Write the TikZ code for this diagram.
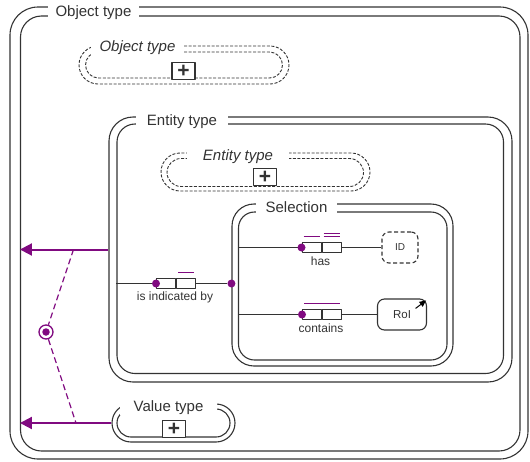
\documentclass[tikz,border=0pt]{standalone}
\usepackage{fontspec}
\setmainfont{Liberation Sans}
\usetikzlibrary{arrows.meta,shapes.misc}
\definecolor{ink}{HTML}{333333}
\definecolor{orm}{HTML}{800A80}
\begin{document}
\begin{tikzpicture}[x=1pt,y=-1pt,
  line join=round,
  frame/.style={draw=ink, line width=1.1pt, inner sep=0pt},
  pill/.style={frame, rounded rectangle},
  dframe/.style={draw=ink, line width=0.9pt, dash pattern=on 3pt off 1.6pt, inner sep=0pt, rounded rectangle},
  tag/.style={fill=white, text=ink, inner ysep=1pt, font=\fontsize{15}{18}\selectfont},
  itag/.style={tag, font=\fontsize{15}{18}\selectfont\itshape},
  plusbox/.style={draw=ink, fill=white, line width=1.1pt, minimum width=23pt, minimum height=17pt, inner sep=0pt, text=ink, font=\fontsize{21}{21}\selectfont\bfseries},
  cell/.style={draw=ink, line width=1.1pt, minimum width=19pt, minimum height=10.5pt, inner sep=0pt},
  rolelab/.style={text=ink, inner sep=0pt, font=\fontsize{12}{14}\selectfont},
  dot/.style={circle, fill=orm, minimum size=8pt, inner sep=0pt},
  conn/.style={draw=ink, line width=1.1pt},
  ubar/.style={draw=orm, line width=1.4pt},
  idbox/.style={draw=ink, line width=1.1pt, dash pattern=on 4pt off 2.5pt, rounded corners=7pt, minimum width=36pt, minimum height=31pt, inner sep=0pt, text=ink, font=\fontsize{10}{12}\selectfont},
  roibox/.style={draw=ink, line width=1.1pt, rounded corners=7pt, minimum width=49pt, minimum height=31pt, inner sep=0pt, text=ink, font=\fontsize{11.5}{13}\selectfont},
  parrow/.style={draw=orm, line width=2pt, -{Triangle[length=12pt,width=12pt]}},
  pdash/.style={draw=orm, line width=1.2pt, dash pattern=on 6pt off 3.5pt},
]
\useasboundingbox (0,0) rectangle (530,461);

% Object type frame
\node[frame, rounded corners=28pt, minimum width=518pt, minimum height=452pt] (objout) at (269,233) {};
\node[frame, rounded corners=21pt, minimum width=499.5pt, minimum height=435pt] (objin) at (270.25,233.5) {};
\node[tag, inner xsep=8pt] (objtag) at (93.5,13) {Object type};

% collapsed Object type subtype
\node[dframe, minimum width=210pt, minimum height=38pt] (objsub) at (184,65) {};
\node[dframe, minimum width=197pt, minimum height=26pt] (objsubin) at (184,65) {};
\node[itag, inner xsep=9pt] (objsubtag) at (137.5,48) {Object type};
\node[plusbox] (objplus) at (183.5,71) {+};

% Entity type frame
\node[frame, rounded corners=24pt, minimum width=403pt, minimum height=265pt] (entout) at (310.5,249.5) {};
\node[frame, rounded corners=18pt, minimum width=386.5pt, minimum height=249.5pt] (entin) at (310.25,248.75) {};
\node[tag, inner xsep=11pt] (enttag) at (182,122) {Entity type};

% collapsed Entity type subtype
\node[dframe, minimum width=209pt, minimum height=38pt] (entsub) at (265.5,172) {};
\node[dframe, minimum width=196.5pt, minimum height=28pt] (entsubin) at (265.25,172.5) {};
\node[itag, inner xsep=16pt] (entsubtag) at (238,157) {Entity type};
\node[plusbox] (entplus) at (265,177) {+};

% Selection frame
\node[frame, rounded corners=22pt, minimum width=221pt, minimum height=162pt] (selout) at (342.5,285) {};
\node[frame, rounded corners=16pt, minimum width=208.5pt, minimum height=148pt] (selin) at (342.75,286) {};
\node[tag, inner xsep=10pt] (seltag) at (296.5,207.5) {Selection};

% Value type
\node[pill, minimum width=123pt, minimum height=38pt] (valout) at (173.5,423) {};
\node[pill, minimum width=113pt, minimum height=28pt] (valin) at (173.5,423) {};
\node[tag, inner xsep=14pt] (valtag) at (168.5,407.5) {Value type};
\node[plusbox] (valplus) at (174,429) {+};

% fact type: is indicated by
\node[cell, anchor=west] (r1a) at (156,283.5) {};
\node[cell, anchor=west] (r1b) at (r1a.east) {};
\node[rolelab] (r1lab) at (175,297) {is indicated by};
\draw[ubar] ([shift={(2,-5.5)}]r1b.north west) -- ([shift={(-2,-5.5)}]r1b.north east);
\draw[conn] (r1a.west) -- (r1a.west -| entin.west);
\node[dot] (seldot) at (r1b.east -| selout.west) {};
\draw[conn] (r1b.east) -- (seldot);
\node[dot] (r1dot) at (r1a.west) {};

% fact type: has
\node[cell, anchor=west] (r2a) at (301.5,247.5) {};
\node[cell, anchor=west] (r2b) at (r2a.east) {};
\node[rolelab] (r2lab) at (320.5,261.5) {has};
\draw[ubar] ([shift={(2,-5)}]r2a.north west) -- ([shift={(-2,-5)}]r2a.north east);
\draw[ubar] ([shift={(2,-5)}]r2b.north west) -- ([shift={(-2,-5)}]r2b.north east);
\draw[ubar] ([shift={(2,-8)}]r2b.north west) -- ([shift={(-2,-8)}]r2b.north east);
\node[idbox] (id) at (400,247.5) {ID};
\draw[conn] (r2a.west) -- (r2a.west -| selin.west);
\draw[conn] (r2b.east) -- (id);
\node[dot] (r2dot) at (r2a.west) {};

% fact type: contains
\node[cell, anchor=west] (r3a) at (302,314.5) {};
\node[cell, anchor=west] (r3b) at (r3a.east) {};
\node[rolelab] (r3lab) at (321,328) {contains};
\draw[ubar] ([shift={(2,-5)}]r3a.north west) -- ([shift={(-2,-5)}]r3b.north east);
\node[roibox] (roi) at (402,314.5) {RoI};
\draw[-{Triangle[length=6.5pt,width=6pt]}, draw=black, line width=1pt] ([shift={(-11.5,10)}]roi.north east) -- ([shift={(-1,2)}]roi.north east);
\draw[conn] (r3a.west) -- (r3a.west -| selin.west);
\draw[conn] (r3b.east) -- (roi);
\node[dot] (r3dot) at (r3a.west) {};

% subtype arrows with exclusion constraint
\draw[parrow] (entout.west) -- (entout.west -| objin.west);
\draw[parrow] (valout.west) -- (valout.west -| objin.west);
\coordinate (xa) at (73.5,249.5);
\coordinate (xb) at (76,423);
\node[circle, draw=orm, line width=1.3pt, minimum size=14pt, inner sep=0pt] (excl) at (46,332) {};
\node[circle, fill=orm, minimum size=7.5pt, inner sep=0pt] (excldot) at (excl) {};
\draw[pdash] (xa) -- (excl);
\draw[pdash] (excl) -- (xb);
\end{tikzpicture}
\end{document}
